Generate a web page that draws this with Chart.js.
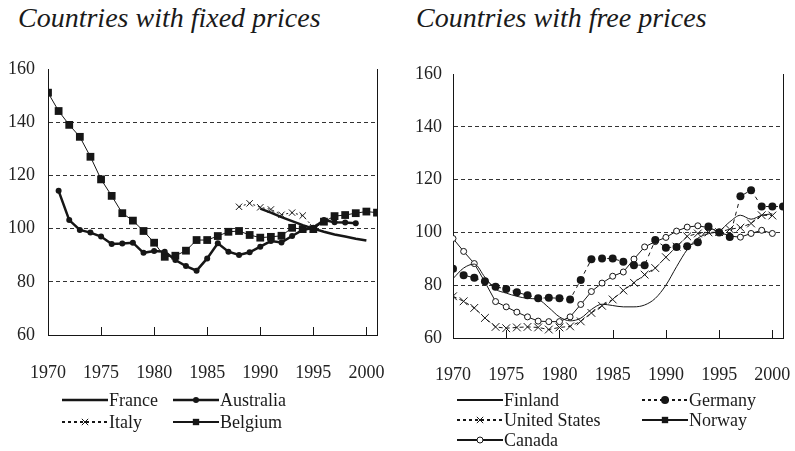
<!DOCTYPE html>
<html lang="en">
<head>
    <meta charset="UTF-8">
    <title>Countries with fixed / free prices</title>
    <script src="https://cdn.jsdelivr.net/npm/chart.js"></script>
    <style>
        html, body {
            margin: 0;
            padding: 0;
            background: #ffffff;
        }
        body {
            width: 795px;
            height: 451px;
            position: relative;
            overflow: hidden;
            font-family: "Liberation Serif", "Times New Roman", "DejaVu Serif", serif;
            color: #1a1a1a;
        }
        .title {
            position: absolute;
            top: 4px;
            font-style: italic;
            font-size: 28px;
            line-height: 28px;
            white-space: nowrap;
        }
        canvas.chart {
            position: absolute;
            top: 0;
        }
        .legend-item {
            position: absolute;
            display: flex;
            align-items: center;
            height: 20px;
            font-size: 18px;
            line-height: 20px;
            white-space: nowrap;
        }
        .legend-item canvas {
            display: block;
            margin-right: 1px;
        }
    </style>
</head>
<body>
    <div class="title" style="left:18px">Countries with fixed prices</div>
    <div class="title" style="left:416px">Countries with free prices</div>

    <canvas id="fixedChart" class="chart" width="397" height="395" style="left:0"></canvas>
    <canvas id="freeChart" class="chart" width="398" height="398" style="left:397px"></canvas>

    <div id="fixedLegend"></div>
    <div id="freeLegend"></div>

    <script>
        // years 1970 .. 2001
        const years = [1970, 1971, 1972, 1973, 1974, 1975, 1976, 1977, 1978, 1979,
                       1980, 1981, 1982, 1983, 1984, 1985, 1986, 1987, 1988, 1989,
                       1990, 1991, 1992, 1993, 1994, 1995, 1996, 1997, 1998, 1999,
                       2000, 2001];
        const yearTicks = [1970, 1975, 1980, 1985, 1990, 1995, 2000];
        const valueTicks = [60, 80, 100, 120, 140, 160];

        // countries with fixed prices
        const france = [null, null, null, null, null, null, null, null, null, null,
                        null, null, null, null, null, null, null, null, null, null,
                        107.5, 106, 104.3, 102.8, 101.3, 100, 98.8, 97.8, 97, 96.2,
                        95.5, null];
        const australia = [null, 114.2, 103.2, 99.5, 98.5, 97, 94.2, 94.4, 94.7, 90.9,
                           91.6, 91.3, 88.2, 85.9, 84.2, 88.8, 94.5, 91.3, 90.1, 91.1,
                           93.2, 95.3, 94.8, 97.2, 99.5, 100.3, 103.2, 102.4, 102.3, 102,
                           null, null];
        const italy = [null, null, null, null, null, null, null, null, null, null,
                       null, null, null, null, null, null, null, null, 108.2, 109.5,
                       108, 107.2, 105.2, 106, 104.9, 100.5, null, null, null, null,
                       null, null];
        const belgium = [151.1, 144.2, 139, 134.5, 127, 118.5, 112.3, 105.8, 103, 99.1,
                         94.7, 89.4, 89.8, 91.7, 95.7, 95.7, 97.2, 98.8, 99.1, 97.6,
                         96.6, 96.9, 97.3, 100.3, 99.8, 99.8, 102.6, 104.7, 105.1, 105.8,
                         106.4, 106];

        // countries with free prices
        const finland = [82.5, 86.5, 88, 83, 78.5, 77, 75.8, 75, 74.6, 71.5,
                         68, 66.5, 67.5, 70.8, 72.8, 72.3, 71.8, 71.8, 72.5, 75,
                         80, 87, 93.5, 97.8, 99.5, 100.5, 104, 106.5, 105, 106.5,
                         107, null];
        const germany = [86.2, 83.8, 82.8, 81.5, 79.4, 78.6, 77.3, 76.2, 75.1, 75.2,
                         75.1, 74.6, 82, 89.8, 90.1, 90.1, 88.9, 87.6, 87.6, 97.1,
                         94.2, 94.5, 94.8, 96.3, 102.2, 100, 98.3, 113.7, 116, 109.8,
                         109.8, 109.8];
        const unitedStates = [75.8, 73.9, 71.4, 67.6, 64.2, 63.7, 64, 64.2, 64, 63.2,
                              64, 64.4, 66.3, 69.5, 72.2, 74.6, 78, 80.9, 84, 86.5,
                              90.6, 94.6, 98.5, 99.6, 100, 100.1, 101.2, 101.8, 103.4, 106.5,
                              106.4, null];
        const norway = [];
        const canada = [97.7, 92.8, 88.2, 81.2, 73.8, 71.8, 69.8, 68, 66.4, 66.2,
                        66.2, 68, 72.7, 77.6, 80.8, 83.4, 85, 89.9, 94.5, 96.5,
                        98.1, 100.5, 102, 102.5, 101.8, 100.2, 98.6, 98.2, 99.6, 100.8,
                        99.6, null];

        const INK = '#161616';
        const SERIF = "'Liberation Serif', 'Times New Roman', 'DejaVu Serif', serif";

        function points(values) {
            return years.map((yr, i) => ({ x: yr, y: values[i] === undefined ? null : values[i] }));
        }

        function series(label, values, style) {
            return Object.assign({
                label: label,
                data: points(values),
                borderColor: INK,
                backgroundColor: INK,
                borderWidth: 1,
                borderDash: [],
                tension: 0,
                pointStyle: 'circle',
                pointRadius: 0,
                pointBackgroundColor: INK,
                pointBorderColor: INK,
                pointBorderWidth: 0,
                fill: false,
                spanGaps: false
            }, style);
        }

        // little tick marks pointing into the plot
        const innerTicks = {
            id: 'innerTicks',
            afterDraw(chart) {
                const x = chart.scales.x;
                const area = chart.chartArea;
                const ctx = chart.ctx;
                ctx.save();
                ctx.strokeStyle = INK;
                ctx.lineWidth = 1;
                x.ticks.forEach(t => {
                    if (!yearTicks.includes(t.value) || t.value === x.min) return;
                    const px = Math.round(x.getPixelForValue(t.value)) + 0.5;
                    ctx.beginPath();
                    ctx.moveTo(px, area.bottom);
                    ctx.lineTo(px, area.bottom - 8);
                    ctx.stroke();
                });
                ctx.restore();
            }
        };

        function makeOptions(cfg) {
            return {
                responsive: false,
                animation: false,
                devicePixelRatio: 1,
                layout: { padding: { top: cfg.top, right: cfg.right, bottom: 0, left: 0 } },
                plugins: {
                    legend: { display: false },
                    title: { display: false },
                    tooltip: { enabled: false }
                },
                scales: {
                    x: {
                        type: 'linear',
                        min: 1970,
                        max: 2001,
                        afterFit: s => { s.height = 60; },
                        grid: { drawOnChartArea: false, drawTicks: false },
                        border: { display: true, color: INK, width: 1 },
                        ticks: {
                            stepSize: 5,
                            includeBounds: false,
                            autoSkip: false,
                            maxRotation: 0,
                            padding: 2,
                            color: '#222',
                            // tall line box pushes the year labels well below the axis
                            font: { family: SERIF, size: 18, lineHeight: cfg.xLine },
                            callback: v => yearTicks.includes(v) ? String(v) : null
                        }
                    },
                    y: {
                        min: 60,
                        max: 160,
                        afterFit: s => { s.width = cfg.yWidth; },
                        grid: {
                            drawTicks: false,
                            lineWidth: 1,
                            color: c => (c.tick && (c.tick.value === 60 || c.tick.value === 160)) ? 'rgba(0,0,0,0)' : '#333'
                        },
                        border: { display: true, color: INK, width: 1, dash: [4, 3] },
                        ticks: {
                            stepSize: 20,
                            padding: cfg.yPad,
                            color: '#222',
                            font: { family: SERIF, size: 18 },
                            callback: v => valueTicks.includes(v) ? String(v) : null
                        }
                    },
                    y2: {
                        position: 'right',
                        afterFit: s => { s.width = 0; },
                        grid: { drawOnChartArea: false, drawTicks: false },
                        border: { display: true, color: INK, width: 1 },
                        ticks: { display: false }
                    }
                }
            };
        }

        const fixedChart = new Chart(document.getElementById('fixedChart').getContext('2d'), {
            type: 'line',
            data: {
                datasets: [
                    series('France', france, { borderWidth: 2.5 }),
                    series('Australia', australia, { borderWidth: 2.5, pointRadius: 3 }),
                    series('Italy', italy, { borderDash: [2, 3], pointStyle: 'crossRot', pointRadius: 4.5, pointBorderWidth: 1 }),
                    series('Belgium', belgium, { pointStyle: 'rect', pointRadius: 5.5 })
                ]
            },
            options: makeOptions({ top: 69, right: 20, yWidth: 48, yPad: 13, xLine: 4 }),
            plugins: [innerTicks]
        });

        const freeChart = new Chart(document.getElementById('freeChart').getContext('2d'), {
            type: 'line',
            data: {
                datasets: [
                    series('Finland', finland, { tension: 0.4, cubicInterpolationMode: 'monotone' }),
                    series('Germany', germany, { borderDash: [4, 4], pointRadius: 4 }),
                    series('United States', unitedStates, { borderDash: [4, 3], pointStyle: 'crossRot', pointRadius: 5.5, pointBorderWidth: 1 }),
                    series('Norway', norway, { borderWidth: 2, pointStyle: 'rect', pointRadius: 5.5 }),
                    series('Canada', canada, { pointRadius: 3, pointBackgroundColor: '#ffffff', pointBorderWidth: 1 })
                ]
            },
            options: makeOptions({ top: 74, right: 12, yWidth: 56, yPad: 11, xLine: 3.9 }),
            plugins: [innerTicks]
        });

        // legend in two columns, drawn from the datasets
        function buildLegend(chart, holder, x0, colW, y0, rowH) {
            chart.data.datasets.forEach((ds, i) => {
                const item = document.createElement('div');
                item.className = 'legend-item';
                item.style.left = (x0 + (i % 2) * colW) + 'px';
                item.style.top = (y0 + Math.floor(i / 2) * rowH) + 'px';

                const c = document.createElement('canvas');
                c.width = 46;
                c.height = 16;
                const g = c.getContext('2d');
                g.strokeStyle = ds.borderColor;
                g.lineWidth = Math.max(ds.borderWidth, 2);
                g.setLineDash(ds.borderDash.length ? [3, 3] : []);
                g.beginPath();
                g.moveTo(0, 8);
                g.lineTo(46, 8);
                g.stroke();
                g.setLineDash([]);
                if (ds.pointRadius > 0) {
                    g.fillStyle = ds.pointBackgroundColor;
                    g.strokeStyle = ds.pointBorderColor;
                    g.lineWidth = ds.pointBorderWidth;
                    Chart.helpers.drawPoint(g, {
                        pointStyle: ds.pointStyle,
                        radius: Math.min(ds.pointRadius, 4.5),
                        borderWidth: ds.pointBorderWidth,
                        rotation: 0
                    }, 23, 8);
                }

                const txt = document.createElement('span');
                txt.textContent = ds.label;
                item.appendChild(c);
                item.appendChild(txt);
                holder.appendChild(item);
            });
        }

        buildLegend(fixedChart, document.getElementById('fixedLegend'), 62, 111, 390, 21.5);
        buildLegend(freeChart, document.getElementById('freeLegend'), 457, 185, 390, 20);
    </script>
</body>
</html>
